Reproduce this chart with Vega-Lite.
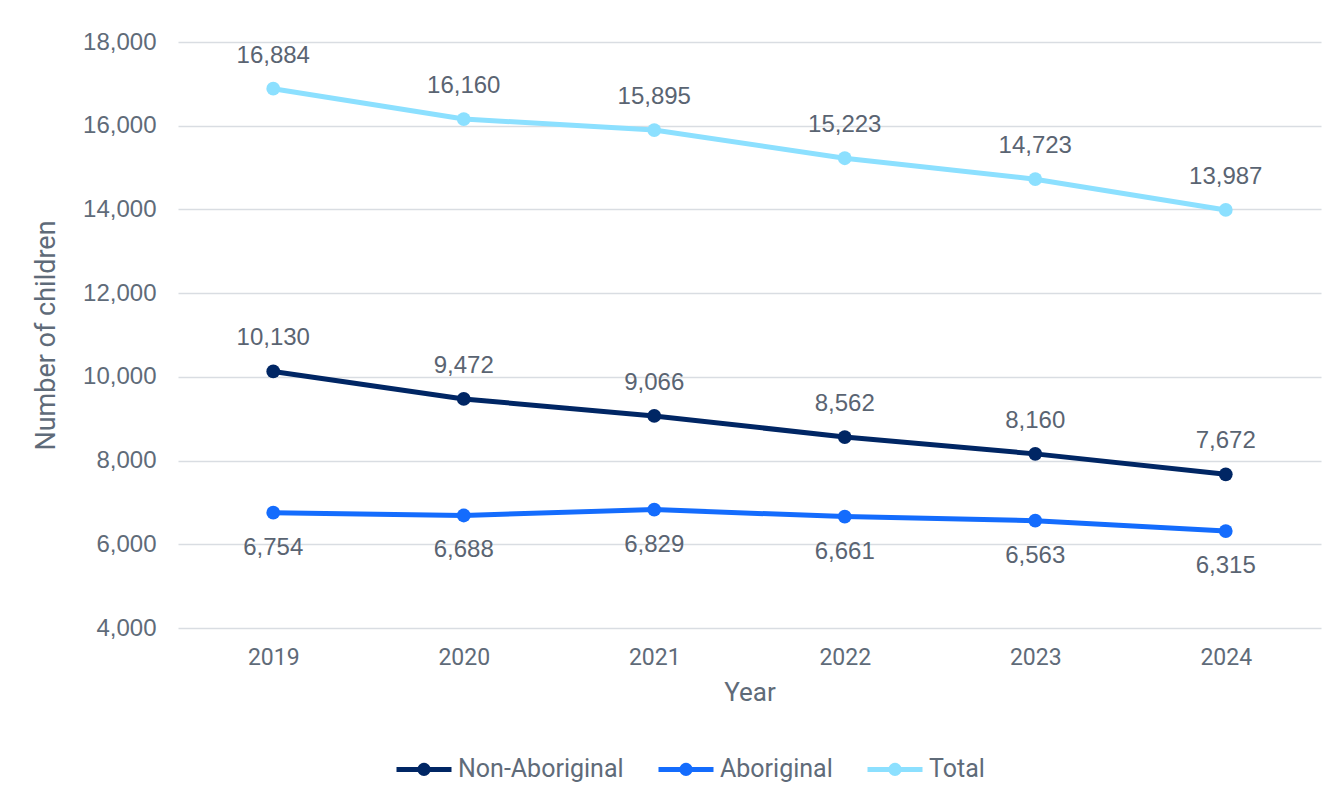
{
  "$schema": "https://vega.github.io/schema/vega-lite/v6.json",
  "autosize": "none",
  "width": 1143,
  "height": 586,
  "padding": {"left": 178, "top": 42, "right": 18, "bottom": 170},
  "background": "white",
  "config": {
    "view": {"stroke": null},
    "axis": {"labelColor": "#5f6b79", "titleColor": "#5f6b79", "gridColor": "#d9dde2", "gridWidth": 1.5, "domain": false, "ticks": false}
  },
  "data": {
    "values": [
      {"Year": "2019", "Group": "Non-Aboriginal", "Count": 10130},
      {"Year": "2020", "Group": "Non-Aboriginal", "Count": 9472},
      {"Year": "2021", "Group": "Non-Aboriginal", "Count": 9066},
      {"Year": "2022", "Group": "Non-Aboriginal", "Count": 8562},
      {"Year": "2023", "Group": "Non-Aboriginal", "Count": 8160},
      {"Year": "2024", "Group": "Non-Aboriginal", "Count": 7672},
      {"Year": "2019", "Group": "Aboriginal", "Count": 6754},
      {"Year": "2020", "Group": "Aboriginal", "Count": 6688},
      {"Year": "2021", "Group": "Aboriginal", "Count": 6829},
      {"Year": "2022", "Group": "Aboriginal", "Count": 6661},
      {"Year": "2023", "Group": "Aboriginal", "Count": 6563},
      {"Year": "2024", "Group": "Aboriginal", "Count": 6315},
      {"Year": "2019", "Group": "Total", "Count": 16884},
      {"Year": "2020", "Group": "Total", "Count": 16160},
      {"Year": "2021", "Group": "Total", "Count": 15895},
      {"Year": "2022", "Group": "Total", "Count": 15223},
      {"Year": "2023", "Group": "Total", "Count": 14723},
      {"Year": "2024", "Group": "Total", "Count": 13987}
    ]
  },
  "encoding": {
    "x": {
      "field": "Year", "type": "ordinal",
      "scale": {"type": "point", "padding": 0.5},
      "axis": {"labelAngle": 0, "labelFont": "Roboto", "labelFontSize": 23, "labelPadding": 18, "title": "Year", "titleFont": "Roboto", "titleFontSize": 26, "titleFontWeight": "normal", "titlePadding": 10, "grid": false}
    },
    "y": {
      "field": "Count", "type": "quantitative",
      "scale": {"domain": [4000, 18000]},
      "axis": {"values": [4000, 6000, 8000, 10000, 12000, 14000, 16000, 18000], "format": ",.0f", "labelFont": "Liberation Sans", "labelFontSize": 24, "labelPadding": 22, "title": "Number of children", "titleFont": "Roboto", "titleFontSize": 27, "titleFontWeight": "normal", "titlePadding": 22}
    },
    "color": {
      "field": "Group", "type": "nominal",
      "scale": {"domain": ["Non-Aboriginal", "Aboriginal", "Total"], "range": ["#002664", "#146cfd", "#8ce0ff"]},
      "legend": {
        "title": null, "orient": "none", "direction": "horizontal",
        "legendX": 216, "legendY": 697,
        "symbolType": "M-1,0L1,0M-0.15,0a0.15,0.15 0 1,0 0.3,0a0.15,0.15 0 1,0 -0.3,0",
        "symbolSize": 3025, "symbolStrokeWidth": 5, "symbolFillColor": "transparent",
        "labelFont": "Roboto", "labelFontSize": 25, "labelColor": "#5f6b79", "labelOffset": 4, "labelLimit": 400,
        "columnPadding": 24
      }
    }
  },
  "layer": [
    {"mark": {"type": "line", "strokeWidth": 5, "point": {"filled": true, "size": 190}}},
    {
      "transform": [{"filter": "datum.Group !== 'Aboriginal'"}],
      "mark": {"type": "text", "dy": -33, "font": "Liberation Sans", "fontSize": 24},
      "encoding": {"text": {"field": "Count", "format": ","}, "color": {"value": "#5a6472"}}
    },
    {
      "transform": [{"filter": "datum.Group === 'Aboriginal'"}],
      "mark": {"type": "text", "dy": 35, "font": "Liberation Sans", "fontSize": 24},
      "encoding": {"text": {"field": "Count", "format": ","}, "color": {"value": "#5a6472"}}
    }
  ]
}
